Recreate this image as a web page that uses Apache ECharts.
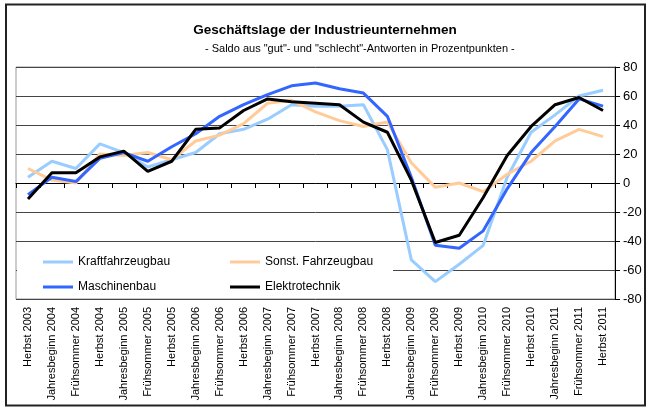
<!DOCTYPE html>
<html>
<head>
<meta charset="utf-8">
<script src="https://cdn.jsdelivr.net/npm/echarts@6/dist/echarts.min.js"></script>
<style>html,body{margin:0;padding:0;background:#fff}#c{width:650px;height:410px}</style>
</head>
<body>
<div id="c"></div>
<script>
const categories = ["Herbst 2003","Jahresbeginn 2004","Frühsommer 2004","Herbst 2004","Jahresbeginn 2005","Frühsommer 2005","Herbst 2005","Jahresbeginn 2006","Frühsommer 2006","Herbst 2006","Jahresbeginn 2007","Frühsommer 2007","Herbst 2007","Jahresbeginn 2008","Frühsommer 2008","Herbst 2008","Jahresbeginn 2009","Frühsommer 2009","Herbst 2009","Jahresbeginn 2010","Frühsommer 2010","Herbst 2010","Jahresbeginn 2011","Frühsommer 2011","Herbst 2011"];
const kraftfahrzeugbau = [4,15,10,27,21,11,16,21,34,37,44,54,53,53,54,23,-53,-68,-56,-43,4,35,47,60,64];
const sonstFahrzeugbau = [10,2,0,20,19,21,16,29,33,41,55,57,49,43,39,42,14,-3,0,-6,6,15,29,37,32];
const maschinenbau = [-8,4,1,17,21,15,25,34,46,54,61,67,69,65,62,46,4,-43,-45,-33,-4,21,39,58,53];
const elektrotechnik = [-11,7,7,18,22,8,15,37,38,50,58,56,55,54,42,35,2,-41,-36,-10,19,39,54,59,50];
const seriesNames = ["Kraftfahrzeugbau","Sonst. Fahrzeugbau","Maschinenbau","Elektrotechnik"];
const yMin = -80, yMax = 80, yStep = 20;
const titleText = "Geschäftslage der Industrieunternehmen";
const subtitleText = "- Saldo aus \"gut\"- und \"schlecht\"-Antworten in Prozentpunkten -";

const FONT = "'Liberation Sans', Arial, sans-serif";
const colors = ["#99CCFF","#FFCC99","#3366FF","#000000"];
const dataSets = [kraftfahrzeugbau, sonstFahrzeugbau, maschinenbau, elektrotechnik];
const lineIcon = 'path://M0,0H30V3H0Z';

const chart = echarts.init(document.getElementById('c'), null, {renderer:'canvas'});
const legendBase = {
  orient: 'vertical', top: 255, padding: 0, icon: lineIcon,
  itemWidth: 30, itemHeight: 3, itemGap: 11, z: 5,
  textStyle: {fontFamily: FONT, fontSize: 12, lineHeight: 14, color: '#000'}
};
chart.setOption({
  animation: false,
  backgroundColor: '#fff',
  textStyle: {fontFamily: FONT},
  title: [
    {text: titleText, left: 'center', top: 23, padding: 0,
     textStyle: {fontFamily: FONT, fontSize: 13.5, fontWeight: 'bold', color: '#000'}},
    {text: subtitleText, left: 205, top: 43, padding: 0,
     textStyle: {fontFamily: FONT, fontSize: 11, fontWeight: 'normal', color: '#000'}}
  ],
  graphic: [
    {type: 'rect', z: 100, silent: true, shape: {x: 6, y: 4.5, width: 639, height: 401},
     style: {fill: 'none', stroke: '#222', lineWidth: 2}},
    {type: 'rect', z: 1, silent: true, shape: {x: 17, y: 248, width: 376, height: 49},
     style: {fill: '#fff'}}
  ],
  legend: [
    Object.assign({data: [seriesNames[0], seriesNames[2]], left: 43}, legendBase),
    Object.assign({data: [seriesNames[1], seriesNames[3]], left: 230}, legendBase)
  ],
  grid: {left: 16, right: 35, top: 67, bottom: 111, show: true, borderColor: '#999', borderWidth: 1, containLabel: false},
  xAxis: {
    type: 'category', data: categories, boundaryGap: true,
    axisLine: {show: true, lineStyle: {color: '#000', width: 1}},
    axisTick: {show: true, interval: 0, length: 5, lineStyle: {color: '#000'}},
    axisLabel: {interval: 0, rotate: 90, fontSize: 11, margin: 8, color: '#000', fontFamily: FONT},
    splitLine: {show: false}
  },
  yAxis: {
    type: 'value', position: 'right', min: yMin, max: yMax, interval: yStep,
    axisLine: {show: true, lineStyle: {color: '#000', width: 1}},
    axisTick: {show: true, length: 5, lineStyle: {color: '#000'}},
    axisLabel: {fontSize: 13, margin: 8, color: '#000', fontFamily: FONT},
    splitLine: {show: true, lineStyle: {color: '#444', width: 1}}
  },
  series: seriesNames.map((n, i) => ({
    name: n, type: 'line', data: dataSets[i], symbol: 'none', z: 2 + (i === 3 ? 1 : 0),
    lineStyle: {color: colors[i], width: 3}, itemStyle: {color: colors[i]}
  }))
});
</script>
</body>
</html>
